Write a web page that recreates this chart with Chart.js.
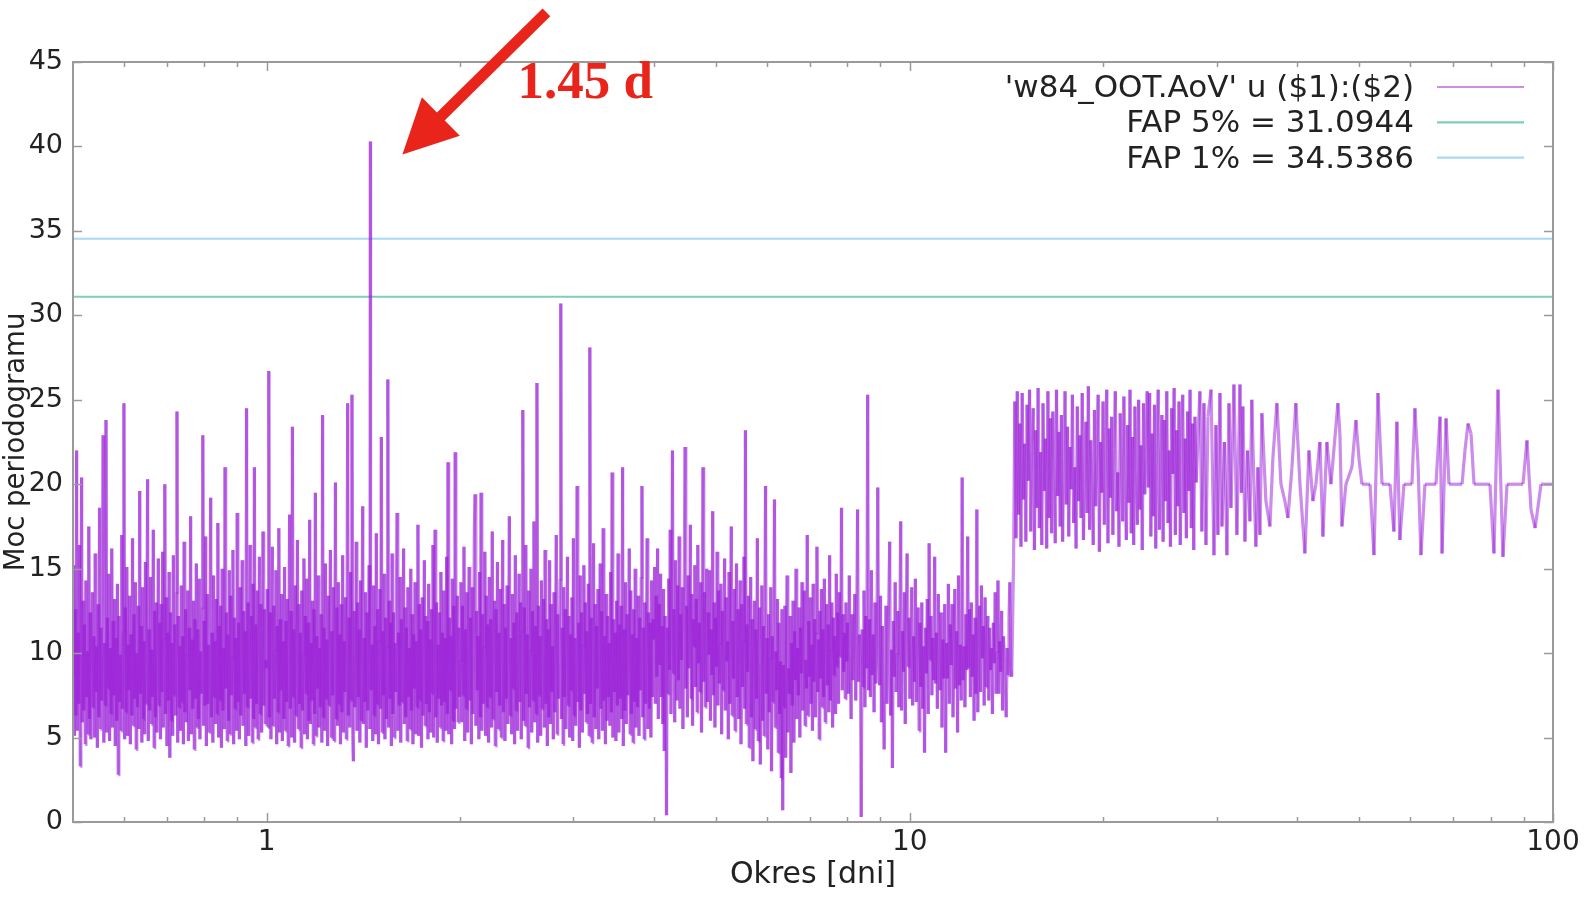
<!DOCTYPE html>
<html>
<head>
<meta charset="utf-8">
<title>w84_OOT AoV</title>
<script src="https://cdn.jsdelivr.net/npm/chart.js@4/dist/chart.umd.min.js"></script>
<style>
  html, body { margin: 0; padding: 0; background: #fff; }
  #wrap { width: 1585px; height: 902px; }
</style>
</head>
<body>
<div id="wrap"><canvas id="aov" width="1585" height="902"></canvas></div>
<script>
// AoV power, dense part: each band is read in even steps of log(period)
const rangeA = [0.5, 1.0];
const powerA = [
  8.7, 15.2, 5.1, 12.6, 6.3, 22.0, 5.4, 11.2, 7.0, 16.4, 3.3, 10.8, 20.4, 5.9, 13.1,
  6.6, 11.7, 4.6, 14.3, 7.4, 10.1, 5.2, 17.5, 6.1, 12.4, 4.9, 9.8, 13.6, 6.8, 11.0,
  5.0, 15.9, 7.7, 10.4, 4.4, 12.9, 6.2, 18.6, 5.5, 11.5, 7.2, 13.8, 22.9, 4.7, 10.6,
  6.9, 23.8, 5.3, 12.1, 7.9, 14.7, 4.8, 10.3, 6.4, 16.2, 5.6, 11.9, 7.5, 13.2, 4.5,
  10.9, 6.0, 14.1, 2.8, 12.2, 7.1, 9.9, 5.4, 17.0, 6.7, 11.3, 24.8, 4.9, 12.7, 6.5,
  15.1, 5.1, 10.5, 7.8, 13.4, 4.6, 11.1, 6.3, 16.8, 5.7, 12.3, 7.3, 14.2, 4.3, 10.0,
  6.8, 12.8, 5.5, 19.6, 7.6, 11.6, 4.7, 13.9, 6.1, 10.7, 5.2, 15.4, 7.0, 12.0, 20.3,
  4.8, 11.4, 6.6, 14.5, 5.8, 10.2, 7.4, 17.3, 4.4, 12.5, 6.2, 13.0, 5.3, 9.7, 15.6,
  6.9, 11.8, 4.9, 12.9, 7.7, 16.0, 5.6, 10.9, 20.0, 6.4, 13.3, 4.5, 11.2, 7.2, 14.8,
  3.8, 12.4, 6.0, 10.6, 5.1, 15.8, 7.5, 11.7, 6.3, 13.6, 24.3, 4.7, 12.2, 6.8, 10.4,
  5.4, 14.0, 7.1, 11.0, 4.6, 16.6, 6.5, 12.6, 5.9, 9.9, 13.7, 4.8, 11.5, 7.8, 18.1,
  5.2, 10.8, 6.7, 13.1, 4.3, 12.0, 7.3, 15.3, 5.6, 11.4, 6.1, 14.4, 4.9, 10.1, 7.6,
  12.7, 22.9, 5.7, 11.9, 6.9, 16.9, 4.5, 13.5, 7.0, 10.5, 5.3, 12.3, 19.2, 6.2, 11.2,
  4.7, 14.6, 7.4, 10.7, 5.8, 13.2, 6.4, 17.7, 5.0, 11.6, 7.2, 12.8, 4.4, 15.0, 6.6,
  10.3, 5.5, 21.0, 7.9, 12.4, 4.8, 11.1, 6.0, 14.9, 5.2, 13.4, 7.5, 9.8, 16.1, 4.6,
  12.1, 6.7, 10.9, 5.4, 18.3, 7.1, 11.8, 4.9, 13.9, 6.3, 10.2, 15.5, 5.7, 12.5, 7.6,
  11.3, 4.5, 24.5, 6.8, 13.0, 5.1, 10.6, 16.4, 7.3, 12.2, 4.7, 14.1, 6.1, 21.0, 5.6,
  11.7, 7.0, 13.7, 4.9, 10.4, 15.7, 6.4, 12.9, 5.3, 11.0, 17.2, 6.9, 12.6, 5.8, 9.6
];
const rangeB = [1.0, 2.0];
const powerB = [
  9.1, 13.8, 5.6, 26.7, 6.2, 12.4, 4.9, 11.1, 16.3, 5.7, 12.8, 7.3, 10.2, 14.9, 4.6,
  11.6, 6.5, 17.4, 5.3, 12.0, 7.8, 13.5, 4.8, 10.7, 6.1, 15.1, 5.4, 11.9, 7.1, 13.2,
  4.5, 10.9, 18.2, 6.7, 12.5, 5.0, 23.4, 7.4, 11.4, 4.7, 14.0, 6.3, 10.5, 16.7, 5.5,
  12.9, 7.0, 11.2, 4.4, 13.7, 6.6, 10.0, 15.6, 5.2, 12.2, 7.6, 14.4, 4.9, 11.8, 6.0,
  17.9, 5.8, 10.6, 7.2, 13.1, 4.6, 12.6, 6.4, 19.5, 5.1, 11.0, 7.9, 14.6, 5.6, 10.3,
  6.8, 12.3, 4.7, 24.1, 6.2, 11.5, 5.4, 15.3, 7.3, 10.8, 4.5, 13.4, 6.9, 12.0, 16.1,
  5.0, 11.3, 7.5, 13.9, 4.8, 10.4, 20.1, 6.1, 12.7, 5.7, 14.2, 7.0, 11.1, 4.6, 12.9,
  6.5, 15.8, 5.3, 10.7, 7.7, 13.3, 4.9, 11.7, 24.8, 6.3, 12.1, 5.6, 14.8, 7.2, 25.3,
  5.1, 3.6, 12.5, 6.8, 10.1, 16.6, 5.4, 13.0, 7.4, 11.4, 4.7, 14.3, 6.0, 12.2, 18.7,
  5.8, 10.9, 7.1, 13.6, 4.4, 12.4, 6.6, 11.0, 15.2, 5.5, 12.8, 7.8, 10.5, 4.8, 14.0,
  6.3, 11.6, 5.2, 17.1, 7.0, 12.6, 4.6, 10.8, 13.8, 6.7, 22.8, 5.3, 11.3, 7.5, 14.7,
  4.9, 12.1, 6.1, 10.4, 26.2, 5.6, 13.1, 7.3, 11.8, 4.5, 15.9, 6.4, 12.4, 5.0, 10.6,
  7.7, 13.5, 18.3, 5.4, 11.2, 6.9, 14.5, 4.7, 12.0, 7.1, 10.9, 16.2, 5.8, 12.7, 6.2,
  11.5, 4.8, 13.9, 7.4, 10.3, 5.5, 15.0, 6.6, 12.3, 4.6, 11.1, 7.9, 14.2, 5.2, 10.7,
  6.8, 17.6, 5.1, 12.9, 7.2, 11.4, 4.4, 13.3, 6.3, 10.1, 15.5, 5.7, 12.2, 7.0, 11.9,
  4.9, 14.1, 6.5, 10.8, 5.3, 12.6, 7.6, 16.4, 5.0, 11.7, 17.3, 6.2, 13.0, 4.7, 10.5,
  7.3, 12.4, 5.6, 14.8, 6.9, 11.2, 4.8, 13.7, 7.1, 10.9, 5.4, 15.7, 6.4, 21.3, 5.2,
  12.1, 7.8, 11.0, 4.6, 14.4, 6.0, 12.8, 5.5, 21.9, 6.7, 10.6, 13.4, 5.9, 11.5, 7.4
];
const rangeC = [2.0, 4.0];
const powerC = [
  9.6, 14.2, 5.9, 12.8, 7.5, 16.3, 4.8, 11.4, 6.7, 13.6, 5.3, 10.9, 15.1, 7.2, 12.1,
  4.6, 13.9, 6.4, 10.7, 17.6, 19.4, 5.7, 12.5, 7.8, 11.0, 4.9, 14.8, 6.2, 19.5, 5.4,
  12.3, 7.0, 10.4, 16.0, 5.1, 13.4, 6.8, 11.7, 4.7, 14.5, 7.4, 12.0, 5.6, 17.2, 6.1,
  10.8, 13.1, 4.5, 12.6, 7.7, 15.4, 5.5, 11.2, 6.9, 13.8, 5.0, 10.5, 16.7, 6.5, 12.9,
  4.8, 11.5, 7.3, 14.0, 5.8, 12.2, 18.1, 6.3, 10.9, 5.2, 13.5, 7.9, 11.8, 4.6, 15.8,
  6.6, 12.4, 5.4, 10.6, 14.7, 7.1, 13.0, 4.9, 11.3, 24.4, 6.0, 12.7, 5.7, 16.4, 7.6,
  11.1, 4.4, 13.7, 6.8, 10.2, 15.0, 5.3, 12.5, 7.2, 17.8, 5.9, 11.6, 6.4, 26.0, 4.7,
  12.8, 7.5, 11.0, 5.1, 14.3, 6.7, 10.8, 13.2, 5.6, 16.1, 7.0, 12.0, 4.5, 11.4, 6.2,
  15.5, 5.8, 12.9, 7.7, 10.4, 4.9, 13.6, 6.5, 11.9, 17.0, 5.2, 12.3, 7.3, 10.7, 14.4,
  30.7, 6.1, 11.5, 4.6, 13.9, 7.4, 12.6, 5.5, 10.1, 15.7, 6.9, 12.2, 5.0, 11.1, 7.8,
  13.3, 4.8, 16.8, 6.3, 10.9, 5.7, 12.7, 19.9, 7.1, 11.8, 4.4, 14.6, 6.6, 12.4, 5.3,
  10.5, 15.2, 7.6, 13.0, 5.9, 11.3, 6.4, 14.1, 5.1, 28.1, 7.0, 12.1, 4.7, 10.8, 16.5,
  6.2, 12.9, 5.5, 11.6, 7.9, 13.8, 4.9, 10.3, 15.3, 6.7, 12.5, 5.4, 17.4, 7.2, 11.0,
  4.6, 13.5, 6.0, 12.2, 7.4, 10.6, 5.7, 14.8, 6.5, 20.7, 5.0, 12.0, 7.7, 11.2, 4.8,
  13.1, 6.9, 15.9, 5.3, 11.7, 7.3, 12.8, 6.1, 21.0, 4.5, 11.4, 6.6, 14.2, 5.8, 12.3,
  7.5, 10.4, 16.2, 5.2, 13.7, 6.4, 11.1, 4.7, 12.6, 7.1, 15.0, 5.6, 10.9, 6.8, 13.4,
  5.1, 12.1, 7.8, 14.5, 19.9, 6.2, 11.5, 4.9, 13.0, 7.0, 10.7, 16.8, 5.5, 12.4, 6.7,
  11.8, 5.0, 14.3, 7.4, 12.0
];
const rangeD = [4.0, 8.0];
const powerD = [
  10.8, 15.1, 7.0, 13.4, 8.6, 16.2, 6.1, 12.9, 9.3, 14.7, 7.4, 11.6, 5.8, 13.8, 4.2,
  12.2, 8.1, 0.4, 11.5, 7.6, 14.4, 9.0, 17.3, 6.4, 13.1, 22.0, 8.8, 12.6, 5.9, 15.5,
  10.2, 7.2, 14.0, 8.4, 16.9, 6.7, 12.3, 9.6, 13.9, 5.5, 11.0, 15.8, 22.2, 7.9, 12.8,
  6.2, 14.6, 9.1, 11.3, 17.6, 7.3, 13.5, 5.7, 12.0, 10.4, 15.2, 8.0, 13.2, 6.5, 16.4,
  9.4, 11.8, 7.7, 14.2, 5.3, 12.7, 21.0, 8.3, 13.6, 6.8, 10.9, 15.0, 7.1, 12.4, 9.9,
  14.9, 6.0, 11.4, 8.7, 18.4, 7.5, 13.0, 5.6, 12.1, 9.2, 16.0, 6.9, 13.7, 8.2, 10.6,
  14.1, 5.2, 12.5, 7.8, 11.2, 15.6, 6.6, 13.3, 9.5, 10.7, 4.9, 14.8, 7.0, 12.2, 17.5,
  6.3, 11.9, 8.5, 13.8, 5.4, 10.5, 15.3, 7.4, 12.6, 6.1, 11.1, 14.3, 4.6, 12.9, 8.0,
  10.8, 15.7, 6.7, 23.2, 5.8, 11.7, 8.9, 13.4, 4.4, 10.2, 14.5, 6.2, 12.0, 3.6, 9.8,
  13.1, 5.5, 11.4, 7.3, 16.8, 4.8, 10.0, 12.7, 3.4, 9.4, 14.0, 6.0, 11.6, 5.1, 13.5,
  19.9, 7.6, 10.9, 4.3, 12.3, 6.5, 9.7, 13.9, 3.0, 11.0, 7.1, 12.5, 19.1, 5.6, 10.1,
  7.8, 13.2, 4.1, 11.8, 6.4, 9.5, 2.6, 12.6, 0.7, 9.3, 6.8, 12.8, 3.8, 10.4, 14.6,
  5.3, 9.1, 7.6, 12.2, 2.9, 10.6, 6.9, 13.1, 4.7, 11.3, 8.4, 15.0, 6.1, 10.3, 7.5,
  12.7, 5.0, 11.5, 8.8, 14.2, 6.6, 10.0, 13.7, 5.7, 9.6, 7.9, 17.0, 6.3, 11.9, 8.6,
  13.3, 7.0, 10.5, 5.4, 14.1, 8.3, 12.0, 6.2, 11.2, 16.3, 7.7, 10.8, 4.9, 12.5, 8.5,
  13.8, 6.8, 11.4, 7.4, 14.4, 5.9, 10.7, 12.9, 8.1, 11.7, 6.5, 15.8, 7.2, 10.2, 13.0,
  5.6, 12.1, 8.7, 11.0, 6.4, 14.7, 9.2, 12.4, 7.0, 13.6, 9.8, 11.5, 18.6, 7.8, 12.3,
  8.9, 11.2, 7.3, 13.0, 9.5
];
const rangeE = [8.0, 14.45];
const powerE = [
  11.8, 7.6, 14.6, 9.0, 6.1, 12.3, 8.4, 10.9, 13.5, 7.2, 12.0, 18.5, 8.3, 11.1, 9.5,
  0.3, 11.4, 8.0, 13.7, 6.8, 12.2, 9.1, 25.3, 7.8, 12.0, 7.4, 14.9, 8.7, 11.1, 6.5,
  13.0, 8.2, 10.6, 19.8, 10.3, 8.1, 13.4, 5.9, 11.6, 7.5, 4.3, 9.4, 12.8, 7.0, 10.5,
  13.2, 16.6, 6.3, 10.2, 3.2, 11.9, 8.6, 14.2, 7.7, 10.0, 12.5, 6.8, 11.4, 17.8, 6.6,
  11.3, 8.9, 13.6, 5.8, 12.4, 15.9, 9.2, 12.1, 7.3, 10.7, 13.9, 6.9, 11.0, 8.3, 14.4,
  7.1, 10.2, 12.7, 5.4, 11.8, 8.0, 13.0, 6.7, 10.4, 4.1, 11.5, 8.8, 13.2, 6.4, 16.5,
  9.6, 12.2, 7.5, 10.9, 8.4, 15.7, 8.2, 11.2, 6.7, 13.5, 9.9, 7.8, 12.4, 5.6, 10.8,
  8.5, 12.9, 4.1, 10.6, 8.5, 14.1, 7.0, 11.7, 9.3, 12.9, 6.2, 10.8, 13.8, 7.9, 11.3,
  5.3, 14.6, 8.1, 10.5, 7.2, 20.4, 8.4, 10.4, 6.8, 12.3, 9.0, 16.9, 9.1, 12.6, 7.4,
  13.0, 8.6, 11.1, 6.0, 12.1, 7.6, 18.5, 6.5, 10.1, 12.8, 7.7, 14.0, 9.7, 11.6, 6.9,
  13.3, 8.0, 10.9, 12.2, 7.2, 11.5, 9.0, 10.3, 6.4, 11.8, 9.4, 13.6, 7.6, 10.1, 14.3,
  7.6, 10.7, 8.9, 12.5, 6.6, 11.0, 9.8, 8.2, 6.2, 10.3, 8.7, 12.1, 14.2, 9.1, 8.6
];
const rangeF = [14.5, 28.0];
const powerF = [
  15.6, 24.9, 16.8, 25.5, 18.2, 23.6, 16.3, 25.4, 19.1, 22.4, 16.6, 24.7, 20.2, 25.6, 17.2,
  22.0, 24.5, 16.1, 23.2, 18.6, 25.7, 17.4, 21.9, 16.4, 24.8, 19.6, 22.7, 16.2, 25.5, 18.0,
  23.9, 17.1, 24.3, 20.5, 16.5, 25.6, 19.3, 23.1, 17.5, 24.1, 16.6, 21.6, 25.5, 18.8, 23.4,
  16.9, 22.2, 19.7, 25.3, 17.7, 21.0, 16.2, 24.6, 19.0, 22.9, 18.0, 25.4, 16.7, 20.8, 23.7,
  18.3, 25.8, 17.3, 22.6, 20.0, 16.4, 24.4, 18.7, 21.8, 25.3, 16.0, 22.5, 19.5, 24.9, 17.6,
  21.4, 25.6, 16.5, 23.3, 19.2, 24.0, 17.0, 22.1, 25.5, 18.4, 20.7, 16.3, 24.2, 21.2, 17.8,
  25.2, 19.9, 16.7, 23.5, 18.9, 25.6, 17.1, 22.8, 16.4, 24.6, 20.3, 17.6, 25.0, 18.5, 22.3,
  16.1, 24.8, 19.4, 21.7, 25.5, 19.8, 25.4, 16.9, 23.0, 18.1, 24.7, 16.2, 22.4, 25.6, 17.3,
  21.5, 24.1, 16.6, 23.8, 19.0, 25.5, 17.7, 22.0, 16.3, 24.5, 20.6, 25.7, 17.0, 23.2, 18.7,
  24.9, 16.4, 21.9, 25.3, 18.3, 22.7, 16.8, 24.3, 19.6, 25.6, 17.4, 23.6, 16.1, 24.0, 20.1
];

// long periods: few frequencies, read point by point
const sparsePeriod = [
  28.25, 28.45, 28.66, 28.87, 29.08, 29.40, 29.71, 29.92, 30.13, 30.35,
  30.57, 30.85, 31.12, 31.35, 31.57, 31.91, 32.25, 32.61, 32.78, 32.95,
  33.19, 33.50, 33.79, 34.02, 34.28, 34.52, 34.77, 35.02, 35.27, 35.78,
  36.30, 36.68, 37.22, 37.76, 38.30, 38.71, 39.28, 39.83, 40.42, 41.14,
  41.74, 42.33, 42.79, 43.41, 43.88, 44.51, 45.16, 46.30, 46.63, 46.97,
  47.65, 48.68, 49.39, 49.93, 50.46, 51.94, 52.68, 53.44, 54.22, 55.79,
  56.58, 57.19, 57.80, 58.65, 60.35, 61.00, 61.66, 62.33, 63.22, 65.77,
  66.74, 67.22, 68.19, 68.91, 72.21, 72.97, 73.77, 74.57, 75.37, 79.80,
  80.95, 82.13, 83.60, 84.82, 89.81, 91.10, 92.43, 93.80, 95.80, 100
];
const sparsePower = [
  25.5, 17.2, 24.8, 16.4, 24.0, 25.6, 15.8, 23.5, 17.0, 25.4,
  17.5, 22.5, 15.8, 24.8, 18.6, 25.9, 17.0, 25.9, 19.5, 24.6,
  16.6, 22.0, 17.8, 25.0, 20.0, 16.3, 21.0, 17.0, 24.2, 19.0,
  17.5, 21.5, 24.8, 20.0, 19.0, 18.0, 21.0, 24.8, 20.0, 15.9,
  22.0, 19.0, 20.0, 22.5, 16.9, 22.5, 20.0, 24.8, 23.0, 17.5,
  20.0, 21.0, 23.8, 21.5, 20.0, 20.0, 15.8, 25.4, 20.0, 20.0,
  17.2, 23.7, 16.7, 20.0, 20.0, 24.5, 21.3, 15.8, 20.0, 20.0,
  24.0, 15.9, 23.9, 20.0, 20.0, 22.0, 23.6, 23.0, 20.0, 20.0,
  15.9, 25.6, 15.7, 20.0, 20.0, 22.6, 18.5, 17.4, 20.0, 20.0
];

// strongest peak
const peakPeriod = 1.45;
const peakPower = 40.3;

// false alarm levels
const fap5 = 31.0944;
const fap1 = 34.5386;

const xMajorTicks = [1, 10, 100];
const xMinorTicks = [0.6, 0.7, 0.8, 0.9, 2, 3, 4, 5, 6, 7, 8, 9, 20, 30, 40, 50, 60, 70, 80, 90];
const yTicks = [0, 5, 10, 15, 20, 25, 30, 35, 40, 45];

const FONT = 'DejaVu Sans';
const purple = 'rgba(155, 35, 215, 0.52)';
const purpleAlt = 'rgba(155, 35, 216, 0.52)';
const green = 'rgba(0, 158, 115, 0.5)';
const blue = 'rgba(86, 180, 233, 0.5)';
const red = '#e8241b';

function bandPoints(range, values) {
  const step = Math.log(range[1] / range[0]) / values.length;
  return values.map((v, i) => ({ x: range[0] * Math.exp(step * i), y: v }));
}

const periodogram = [
  ...bandPoints(rangeA, powerA),
  ...bandPoints(rangeB, powerB),
  ...bandPoints(rangeC, powerC),
  ...bandPoints(rangeD, powerD),
  ...bandPoints(rangeE, powerE),
  ...bandPoints(rangeF, powerF),
  ...sparsePeriod.map((p, i) => ({ x: p, y: sparsePower[i] })),
  { x: peakPeriod, y: peakPower }
].sort((a, b) => a.x - b.x);

// border, inward ticks, key and the arrow note
const decorations = {
  id: 'decorations',
  afterDraw(chart) {
    const { ctx, chartArea: a, scales: { x, y } } = chart;
    ctx.save();
    ctx.strokeStyle = '#9a9a9a';
    ctx.lineWidth = 2;
    ctx.strokeRect(a.left, a.top, a.right - a.left, a.bottom - a.top);

    ctx.lineWidth = 1.5;
    ctx.beginPath();
    yTicks.forEach(v => {
      const py = Math.round(y.getPixelForValue(v)) + 0.5;
      ctx.moveTo(a.left, py); ctx.lineTo(a.left + 9, py);
      ctx.moveTo(a.right, py); ctx.lineTo(a.right - 9, py);
    });
    xMajorTicks.forEach(v => {
      const px = Math.round(x.getPixelForValue(v)) + 0.5;
      ctx.moveTo(px, a.bottom); ctx.lineTo(px, a.bottom - 9);
      ctx.moveTo(px, a.top); ctx.lineTo(px, a.top + 9);
    });
    xMinorTicks.forEach(v => {
      const px = Math.round(x.getPixelForValue(v)) + 0.5;
      ctx.moveTo(px, a.bottom); ctx.lineTo(px, a.bottom - 5);
      ctx.moveTo(px, a.top); ctx.lineTo(px, a.top + 5);
    });
    ctx.stroke();

    // key, text right aligned with a line sample after it
    ctx.font = '31px "' + FONT + '"';
    ctx.textAlign = 'right';
    ctx.textBaseline = 'middle';
    chart.data.datasets.forEach((ds, i) => {
      const ry = 87 + i * 35.3;
      ctx.fillStyle = '#222';
      ctx.fillText(ds.label, 1414, ry + 2);
      ctx.strokeStyle = ds.borderColor;
      ctx.lineWidth = 2.2;
      ctx.beginPath();
      ctx.moveTo(1437, ry); ctx.lineTo(1524, ry);
      ctx.stroke();
    });

    // arrow pointing at the peak
    const tipX = x.getPixelForValue(peakPeriod) + 32;
    const tipY = y.getPixelForValue(peakPower) + 13;
    const tailX = tipX + 144, tailY = tipY - 142;
    const ang = Math.atan2(tipY - tailY, tipX - tailX);
    const headLen = 54, headHalf = 27;
    const bx = tipX - headLen * Math.cos(ang), by = tipY - headLen * Math.sin(ang);
    ctx.strokeStyle = red;
    ctx.fillStyle = red;
    ctx.lineWidth = 11;
    ctx.beginPath();
    ctx.moveTo(tailX, tailY);
    ctx.lineTo(bx + 4 * Math.cos(ang), by + 4 * Math.sin(ang));
    ctx.stroke();
    ctx.beginPath();
    ctx.moveTo(tipX, tipY);
    ctx.lineTo(bx + headHalf * Math.sin(ang), by - headHalf * Math.cos(ang));
    ctx.lineTo(bx - headHalf * Math.sin(ang), by + headHalf * Math.cos(ang));
    ctx.closePath();
    ctx.fill();

    ctx.font = 'bold 53px "Liberation Serif"';
    ctx.textAlign = 'left';
    ctx.textBaseline = 'alphabetic';
    ctx.fillText(peakPeriod + ' d', tipX + 115, tipY - 56);
    ctx.restore();
  }
};

new Chart(document.getElementById('aov'), {
  type: 'line',
  data: {
    datasets: [
      {
        label: "'w84_OOT.AoV' u ($1):($2)",
        data: periodogram,
        borderColor: purple,
        borderWidth: 3.2,
        pointRadius: 0,
        tension: 0,
        // every step stroked on its own so overlapping strokes build up
        segment: { borderColor: c => (c.p0DataIndex % 2 ? purple : purpleAlt) }
      },
      {
        label: 'FAP 5% = ' + fap5,
        data: [{ x: 0.5, y: fap5 }, { x: 100, y: fap5 }],
        borderColor: green,
        borderWidth: 2,
        pointRadius: 0
      },
      {
        label: 'FAP 1% = ' + fap1,
        data: [{ x: 0.5, y: fap1 }, { x: 100, y: fap1 }],
        borderColor: blue,
        borderWidth: 2,
        pointRadius: 0
      }
    ]
  },
  options: {
    responsive: false,
    animation: false,
    parsing: false,
    layout: { padding: { top: 62, right: 32, left: 0, bottom: 0 } },
    plugins: { legend: { display: false }, tooltip: { enabled: false } },
    scales: {
      x: {
        type: 'logarithmic',
        min: 0.5,
        max: 100,
        grid: { display: false, drawTicks: false },
        border: { display: false },
        afterBuildTicks: s => { s.ticks = xMajorTicks.map(v => ({ value: v })); },
        afterFit: s => { s.height = 80; },
        ticks: {
          autoSkip: false,
          maxRotation: 0,
          padding: 4,
          color: '#222',
          font: { family: FONT, size: 28 },
          callback: v => String(v)
        },
        title: {
          display: true,
          text: 'Okres [dni]',
          color: '#222',
          font: { family: FONT, size: 30 },
          padding: { top: 0, bottom: 9 }
        }
      },
      y: {
        min: 0,
        max: 45,
        grid: { display: false, drawTicks: false },
        border: { display: false },
        afterFit: s => { s.width = 73; },
        ticks: {
          stepSize: 5,
          padding: 10,
          color: '#222',
          font: { family: FONT, size: 27 }
        },
        title: {
          display: true,
          text: 'Moc periodogramu',
          color: '#222',
          font: { family: FONT, size: 27.5 },
          padding: 0
        }
      }
    }
  },
  plugins: [decorations]
});
</script>
</body>
</html>
